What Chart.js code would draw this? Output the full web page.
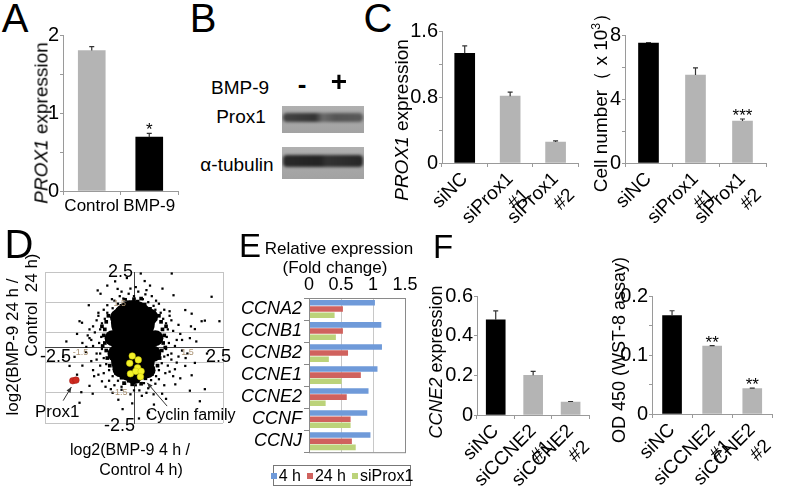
<!DOCTYPE html>
<html>
<head>
<meta charset="utf-8">
<script src="https://cdn.jsdelivr.net/npm/chart.js@4.4.1/dist/chart.umd.min.js"></script>
<style>
  body { margin: 0; width: 786px; height: 487px; position: relative; overflow: hidden; background: #fff;
         font-family: "Liberation Sans", Arial, sans-serif; color: #000; }
  canvas { position: absolute; }
  .t { position: absolute; white-space: nowrap; line-height: 1; }
  .blot { position: absolute; background: linear-gradient(180deg, #b0b0b0, #a2a2a2); overflow: hidden; }
  .band { position: absolute; left: 1px; right: 1px; filter: blur(1.6px); border-radius: 4px; }
  .legend { position: absolute; border: 1px solid #777; display: flex; align-items: center; justify-content: center;
            font-size: 16px; gap: 6px; box-sizing: border-box; white-space: nowrap; }
  .legend span.sw { display: inline-block; width: 6px; height: 6px; margin-right: 2px; vertical-align: middle; }
</style>
</head>
<body>
<script>
// ---- data ----
// A
const catsA = ['Control', 'BMP-9'];
const prox1A = [1.8, 0.69];
const errProx1A = [0.05, 0.05];
const starsA = ['', '*'];
const tickLabelsA = [0, 1, 2];

// C
const catsC = ['siNC', ['siProx1', '#1'], ['siProx1', '#2']];
const prox1C = [1.33, 0.81, 0.255];
const errProx1C = [0.09, 0.05, 0.012];
const tickLabelsProx1C = [0, 0.8, 1.6];
const cellC = [7.5, 5.5, 2.62];
const errCellC = [0.03, 0.44, 0.13];
const starsCellC = ['', '', '***'];
const tickLabelsCellC = [0, 4, 8];

// D (log2 ratios, 4 h on x, 24 h on y)
const prox1D = [{x: -1.72, y: -1.1}, {x: -1.63, y: -1.08}];
const cyclinD = [
  {x: -0.05, y: -0.28}, {x: 0.12, y: -0.41}, {x: -0.12, y: -0.52}, {x: 0.10, y: -0.67},
  {x: -0.10, y: -0.87}, {x: 0.05, y: -0.79}, {x: 0.20, y: -0.79}, {x: 0.18, y: -0.97}
];
// dense centre of the cloud
const coreD = [{x: -0.03, y: 0.83}, {x: -0.03, y: 0.21}, {x: -0.03, y: -0.40}];
const coreEdgeD = [
  {x: -0.6, y: 0.31}, {x: 0.6, y: 0.31}, {x: -0.52, y: -0.21}, {x: 0.54, y: -0.21},
  {x: -0.06, y: 1.3}, {x: 0.0, y: -0.95}, {x: -0.45, y: 1.0}, {x: 0.45, y: 1.02},
  {x: -0.38, y: -0.72}, {x: 0.38, y: -0.75}
];
const fringeD = [
  [-0.35,1.38],[-0.15,1.5],[0.1,1.52],[0.3,1.42],[0.0,1.6],[-0.25,1.58],[0.2,1.62],[-0.45,1.25],[0.45,1.28],
  [-0.72,1.05],[-0.78,0.85],[-0.82,0.6],[-0.85,0.4],[-0.82,0.15],[-0.78,-0.1],[-0.75,-0.35],[-0.68,-0.6],[-0.6,0.95],[-0.9,0.7],[-0.88,0.05],
  [0.7,1.05],[0.76,0.85],[0.8,0.6],[0.85,0.4],[0.82,0.15],[0.78,-0.1],[0.72,-0.35],[0.66,-0.6],[0.6,0.95],[0.9,0.7],[0.88,0.0],
  [-0.5,-0.85],[-0.35,-1.0],[-0.15,-1.1],[0.1,-1.12],[0.32,-1.02],[0.5,-0.88],[-0.05,-1.22],[0.2,-1.2],[-0.28,-1.18]
];
// scattered genes around the centre
const otherD = [
  [-0.3,1.62],[0.0,1.7],[0.25,1.6],[-0.15,1.78],[0.12,1.85],[0.4,1.5],[-0.45,1.45],[0.55,1.38],[-0.6,1.3],[0.32,1.76],[-0.35,1.85],[0.05,2.0],
  [-0.75,1.15],[-0.82,0.95],[-0.9,0.8],[-0.95,0.6],[-0.7,1.05],[-1.05,0.9],[-1.1,0.5],[-0.85,1.25],
  [-0.92,0.35],[-0.98,0.15],[-0.9,-0.05],[-1.05,-0.2],[-1.2,0.25],[-1.15,0.05],[-1.3,0.4],[-1.35,-0.15],
  [-0.85,-0.35],[-0.78,-0.55],[-0.7,-0.75],[-0.95,-0.6],[-1.05,-0.4],[-0.6,-0.95],[-0.85,-0.85],[-1.15,-0.75],
  [-0.45,-1.1],[-0.25,-1.2],[0.05,-1.25],[0.28,-1.18],[0.48,-1.08],[-0.35,-1.4],[0.15,-1.42],[0.4,-1.35],[-0.1,-1.55],[0.22,-1.6],[-0.55,-1.25],[0.6,-1.2],
  [0.85,-0.3],[0.78,-0.52],[0.7,-0.75],[0.95,-0.6],[1.05,-0.4],[0.62,-0.95],[0.88,-0.85],[1.15,-0.72],
  [0.92,0.35],[0.98,0.15],[0.9,-0.05],[1.05,-0.2],[1.2,0.25],[1.15,0.05],[1.3,0.45],[1.35,-0.1],
  [0.75,1.15],[0.82,0.95],[0.9,0.8],[0.95,0.6],[0.7,1.05],[1.05,0.9],[1.1,0.55],[0.85,1.25],
  [0.19,2.45],[1.06,2.45],[2.18,1.68],[1.11,1.73],[-0.53,2.19],[-0.46,1.94],[-0.94,1.78],[-1.27,1.4],
  [-1.53,0.87],[-1.46,0.82],[-1.02,1.89],[-1.25,0.31],[-1.34,0.02],[1.44,1.24],[1.62,1.12],[1.9,0.87],
  [1.99,0.89],[2.4,0.87],[1.71,0.61],[1.57,0.31],[1.25,-0.3],[1.44,-0.61],[1.71,-0.51],[1.62,-0.92],
  [1.16,-1.22],[1.3,-1.02],[1.99,-1.38],[1.85,-1.78],[0.79,-1.53],[0.56,-1.89],[-0.44,-1.73],[-0.65,-1.38],
  [-0.9,-1.12],[-1.25,-1.27],[-1.16,-1.53],[-1.53,-1.83],[-1.81,-0.61],[-1.99,-0.31],[-1.67,-0.31],
  [-0.32,-2.04],[0.14,-2.35],[0.42,-2.15],[1.57,-1.43],[-1.48,-1.48],
  [-0.62,1.6],[0.62,1.55],[-1.0,1.15],[1.0,1.2],[-1.12,-0.95],[1.1,-0.95],[-0.8,-1.3],[0.85,-1.25],
  [-1.45,0.15],[1.5,-0.2],[-0.2,2.3],[0.45,2.05],[-1.6,-0.9],[1.75,0.2],
  [-0.55,1.55],[-0.4,1.7],[-0.1,1.95],[0.35,1.9],[0.5,1.7],[0.7,1.45],[-0.75,1.4],[-1.0,1.05],
  [-1.15,0.7],[-1.2,-0.45],[-1.0,-0.9],[-0.7,-1.1],[-0.35,-1.3],[0.0,-1.42],[0.35,-1.5],[0.7,-1.05],
  [1.0,-0.8],[1.2,-0.5],[1.25,0.75],[1.0,1.05],[0.6,1.25],[-0.2,1.4],[0.15,1.35],[-1.25,0.6],
  [1.35,0.25],[-0.95,-0.2],[0.95,-0.25],[-0.6,-1.5],[0.55,-1.55],[-0.05,-1.85],[1.6,0.7],[-1.6,0.45],
  [-1.45,-0.6],[1.45,-0.35],[0.3,2.2],[-0.75,2.05],[0.8,1.95],[-1.9,0.2],[2.05,-0.2],[0.9,-1.7]
];
const gridD = [-2.5, -1.5, -0.5, 0.5, 1.5, 2.5];
const axisEndsD = ['-2.5', '2.5'];
const minorLabelsD = ['-1.5', '1.5'];

// E
const genesE = ['CCNA2', 'CCNB1', 'CCNB2', 'CCNE1', 'CCNE2', 'CCNF', 'CCNJ'];
const seriesE = ['4 h', '24 h', 'siProx1'];
const h4E = [1.03, 1.13, 1.14, 1.07, 0.93, 0.91, 0.96];
const h24E = [0.53, 0.53, 0.61, 0.81, 0.59, 0.65, 0.67];
const siProx1E = [0.40, 0.42, 0.31, 0.51, 0.26, 0.65, 0.73];

// F
const catsF = ['siNC', ['siCCNE2', '#1'], ['siCCNE2', '#2']];
const ccne2F = [0.48, 0.20, 0.065];
const errCcne2F = [0.045, 0.02, 0.003];
const tickLabelsCcne2F = [0, 0.2, 0.4, 0.6];
const odF = [0.167, 0.115, 0.043];
const errOdF = [0.008, 0.001, 0.001];
const starsOdF = ['', '**', '**'];
const tickLabelsOdF = [0, 0.1, 0.2];

// ---- setup ----
const FONT = '"Liberation Sans", Arial, sans-serif';
const AXIS = '#9a9a9a';
const GRAY = '#b4b4b4';
const colorsE = ['#6f9ad9', '#d0625e', '#bcd37a'];

Chart.defaults.font.family = FONT;
Chart.defaults.color = '#000';
Chart.defaults.animation = false;
Chart.defaults.responsive = false;
Chart.defaults.plugins.legend.display = false;
Chart.defaults.plugins.tooltip.enabled = false;

function makeCanvas(b) {
  const c = document.createElement('canvas');
  c.width = b.w; c.height = b.h;
  c.style.left = b.l + 'px'; c.style.top = b.t + 'px';
  document.body.appendChild(c);
  return c;
}

function addText(html, cx, cy, size, opts = {}) {
  const d = document.createElement('div');
  d.className = 't';
  d.innerHTML = html;
  d.style.left = cx + 'px';
  d.style.top = cy + 'px';
  d.style.fontSize = size + 'px';
  d.style.transform = 'translate(-50%,-50%)' + (opts.rot ? ' rotate(-90deg)' : '');
  if (opts.weight) d.style.fontWeight = opts.weight;
  document.body.appendChild(d);
  return d;
}

// upper whiskers and significance stars
const errorBars = {
  id: 'errorBars',
  afterDatasetsDraw(chart) {
    const ctx = chart.ctx, y = chart.scales.y;
    chart.data.datasets.forEach((ds, i) => {
      if (!ds.errors) return;
      chart.getDatasetMeta(i).data.forEach((bar, j) => {
        const top = y.getPixelForValue(ds.data[j] + ds.errors[j]);
        ctx.save();
        ctx.strokeStyle = '#333';
        ctx.lineWidth = 1.2;
        ctx.beginPath();
        ctx.moveTo(bar.x, bar.y);
        ctx.lineTo(bar.x, top);
        ctx.moveTo(bar.x - 2.5, top);
        ctx.lineTo(bar.x + 2.5, top);
        ctx.stroke();
        if (ds.stars && ds.stars[j]) {
          ctx.fillStyle = '#000';
          ctx.font = '17px ' + FONT;
          ctx.textAlign = 'center';
          ctx.fillText(ds.stars[j], bar.x, top + 2);
        }
        ctx.restore();
      });
    });
  }
};

const frame = {
  id: 'frame',
  afterDraw(chart) {
    const { ctx, chartArea: a } = chart;
    ctx.save();
    ctx.strokeStyle = '#8a8a8a';
    ctx.lineWidth = 1;
    ctx.strokeRect(a.left + 0.5, a.top + 0.5, a.right - a.left, a.bottom - a.top);
    ctx.restore();
  }
};

function isLabel(list, v) {
  return list.some(t => Math.abs(t - v) < 1e-6);
}

function barChart(b, labels, values, errors, stars, colors, ymax, step, yLabels, rotate, barPx, xFont) {
  return new Chart(makeCanvas(b), {
    type: 'bar',
    data: { labels, datasets: [{ data: values, errors, stars, backgroundColor: colors, barThickness: barPx }] },
    options: {
      layout: { padding: { top: b.pt, right: b.pr, left: 0, bottom: 0 } },
      scales: {
        x: {
          grid: { offset: true, drawOnChartArea: false, tickLength: 4, color: AXIS },
          border: { color: AXIS },
          ticks: { font: { size: xFont }, minRotation: rotate, maxRotation: rotate, autoSkip: false, padding: 1 },
          afterFit: s => { s.height = b.xh; }
        },
        y: {
          min: 0, max: ymax,
          grid: { drawOnChartArea: false, tickLength: 3, color: AXIS },
          border: { color: AXIS },
          ticks: { stepSize: step, font: { size: 20 }, padding: 1,
                   callback: v => isLabel(yLabels, v) ? String(+v.toFixed(2)) : '' },
          afterFit: s => { s.width = b.yw; }
        }
      }
    },
    plugins: [errorBars]
  });
}

// ---- A ----
barChart({ l: 33, t: 20, w: 152, h: 205, yw: 30, xh: 34, pt: 15, pr: 7 },
  catsA, prox1A, errProx1A, starsA, [GRAY, '#000'], 2, 0.5, tickLabelsA, 0, 27, 17);

// ---- C ----
barChart({ l: 405, t: 15, w: 185, h: 215, yw: 37, xh: 67, pt: 16, pr: 7 },
  catsC, prox1C, errProx1C, null, ['#000', GRAY, GRAY], 1.6, 0.4, tickLabelsProx1C, 45, 20, 19);
barChart({ l: 598, t: 15, w: 188, h: 215, yw: 27, xh: 67, pt: 20, pr: 20 },
  catsC, cellC, errCellC, starsCellC, ['#000', GRAY, GRAY], 8, 2, tickLabelsCellC, 45, 20, 19);

// ---- F ----
barChart({ l: 440, t: 280, w: 165, h: 207, yw: 37, xh: 72, pt: 16, pr: 7 },
  catsF, ccne2F, errCcne2F, null, ['#000', GRAY, GRAY], 0.6, 0.1, tickLabelsCcne2F, 45, 19, 19);
barChart({ l: 615, t: 280, w: 171, h: 207, yw: 37, xh: 73, pt: 16, pr: 3 },
  catsF, odF, errOdF, starsOdF, ['#000', GRAY, GRAY], 0.2, 0.05, tickLabelsOdF, 45, 19, 19);

// ---- D ----
const dLabels = {
  id: 'dLabels',
  afterDraw(chart) {
    const { ctx, scales: { x, y } } = chart;
    const px = v => x.getPixelForValue(v), py = v => y.getPixelForValue(v);
    ctx.save();
    ctx.fillStyle = '#000';
    ctx.textBaseline = 'middle';
    ctx.font = '18px ' + FONT;
    ctx.textAlign = 'right';
    ctx.fillText(axisEndsD[1], px(0) - 1, py(2.5));
    ctx.fillText(axisEndsD[0], px(0) + 1, py(-2.5) + 3);
    ctx.fillText(axisEndsD[1], px(2.5) + 8, py(0) + 10);
    ctx.textAlign = 'left';
    ctx.fillText(axisEndsD[0], px(-2.5) - 5, py(0) + 10);
    // faint inner labels
    ctx.font = '9px ' + FONT;
    ctx.fillStyle = '#a89070';
    ctx.textAlign = 'center';
    ctx.fillText(minorLabelsD[1], px(-0.4), py(1.45));
    ctx.fillText(minorLabelsD[0], px(-0.4), py(-1.5));
    ctx.fillText(minorLabelsD[0], px(-1.5), py(-0.15));
    ctx.fillText(minorLabelsD[1], px(1.5), py(-0.15));
    // arrows
    ctx.strokeStyle = '#333';
    ctx.fillStyle = '#333';
    ctx.lineWidth = 1;
    [[[-1.99, -1.76], [-1.76, -1.31]], [[0.93, -1.94], [0.37, -1.17]]].forEach(([f, t]) => {
      const x0 = px(f[0]), y0 = py(f[1]), x1 = px(t[0]), y1 = py(t[1]);
      const a = Math.atan2(y1 - y0, x1 - x0);
      ctx.beginPath(); ctx.moveTo(x0, y0); ctx.lineTo(x1, y1); ctx.stroke();
      ctx.beginPath();
      ctx.moveTo(x1, y1);
      ctx.lineTo(x1 - 6 * Math.cos(a - 0.4), y1 - 6 * Math.sin(a - 0.4));
      ctx.lineTo(x1 - 6 * Math.cos(a + 0.4), y1 - 6 * Math.sin(a + 0.4));
      ctx.closePath(); ctx.fill();
    });
    ctx.fillStyle = '#000';
    ctx.font = '17px ' + FONT;
    ctx.textAlign = 'left';
    ctx.fillText('Prox1', px(-2.78), py(-2.14));
    ctx.font = '16px ' + FONT;
    ctx.fillText('Cyclin family', px(0.33), py(-2.24));
    ctx.restore();
  }
};

const toXY = list => list.map(([x, y]) => ({ x, y }));

new Chart(makeCanvas({ l: 0, t: 250, w: 245, h: 195 }), {
  type: 'scatter',
  data: {
    datasets: [
      { data: prox1D, pointRadius: 3.3, backgroundColor: '#cf2a20', borderColor: '#a01810', borderWidth: 0.5 },
      { data: cyclinD, pointRadius: 3.3, backgroundColor: '#f4f22a', borderColor: '#c9c400', borderWidth: 0.5 },
      { data: coreD, pointRadius: 22, backgroundColor: '#000', borderWidth: 0 },
      { data: coreEdgeD, pointRadius: 8, backgroundColor: '#000', borderWidth: 0 },
      { data: toXY(fringeD), pointRadius: 2.6, pointStyle: 'rect', backgroundColor: '#000', borderWidth: 0 },
      { data: toXY(otherD), pointRadius: 1.6, pointStyle: 'rect', backgroundColor: '#000', borderWidth: 0 }
    ]
  },
  options: {
    layout: { padding: { left: 45, top: 13, right: 20, bottom: 18 } },
    scales: {
      x: {
        type: 'linear', min: -2.5, max: 2.5, position: { y: 0 },
        afterBuildTicks: s => { s.ticks = [{ value: -2.5 }, { value: 2.5 }]; },
        ticks: { display: false },
        grid: { color: '#c4c4c4', drawTicks: false },
        border: { color: '#444' }
      },
      y: {
        min: -2.5, max: 2.5, position: { x: 0 },
        afterBuildTicks: s => { s.ticks = gridD.map(v => ({ value: v })); },
        ticks: { display: false },
        grid: { color: '#c4c4c4', drawTicks: false },
        border: { color: '#444' }
      }
    }
  },
  plugins: [dLabels]
});

// ---- E ----
new Chart(makeCanvas({ l: 225, t: 270, w: 195, h: 195 }), {
  type: 'bar',
  data: {
    labels: genesE,
    datasets: [h4E, h24E, siProx1E].map((d, i) => ({ label: seriesE[i], data: d, backgroundColor: colorsE[i] }))
  },
  options: {
    indexAxis: 'y',
    layout: { padding: { right: 15, bottom: 5 } },
    datasets: { bar: { categoryPercentage: 0.84, barPercentage: 0.9 } },
    scales: {
      x: {
        position: 'top', min: 0, max: 1.5,
        ticks: { stepSize: 0.5, font: { size: 18 }, padding: 2, callback: v => String(+v.toFixed(2)) },
        grid: { color: '#c8c8c8', drawTicks: false },
        border: { display: false },
        afterFit: s => { s.height = 28; }
      },
      y: {
        ticks: { font: { size: 18, style: 'italic' }, padding: 2, autoSkip: false },
        grid: { offset: true, drawOnChartArea: false, tickLength: 5, color: '#888' },
        border: { color: '#888' },
        afterFit: s => { s.width = 84; }
      }
    }
  },
  plugins: [frame]
});

const leg = document.createElement('div');
leg.className = 'legend';
Object.assign(leg.style, { left: '273px', top: '465px', width: '138px', height: '21px' });
leg.innerHTML = seriesE.map((s, i) =>
  `<span><span class="sw" style="background:${colorsE[i]}"></span>${s}</span>`).join('');
document.body.appendChild(leg);

// ---- panel letters and titles ----
addText('A', 15, 18, 40);
addText('B', 203, 18, 40);
addText('C', 378, 18, 40);
addText('D', 19, 244, 40);
addText('E', 250, 245, 33);
addText('F', 443, 246, 33);

addText('<i>PROX1</i> expression', 41, 123, 19, { rot: true });
addText('<i>PROX1</i> expression', 401, 120, 19, { rot: true });
addText('Cell number（ x 10<sup style="font-size:0.65em;vertical-align:0.5em;line-height:0">3</sup>）', 600, 98, 19, { rot: true });
addText('<i>CCNE2</i> expression', 436, 362, 18, { rot: true });
addText('OD 450 (WST-8 assay)', 619, 350, 18, { rot: true });

addText('log2(BMP-9 24 h /', 12, 347, 17, { rot: true });
addText('Control&nbsp; 24 h)', 31, 305, 17, { rot: true });
addText('log2(BMP-9 4 h /', 130, 450, 16);
addText('Control 4 h)', 141, 470, 16);

addText('Relative expression', 339, 248, 17);
addText('(Fold change)', 335, 267, 17);

// ---- B: western blot ----
addText('BMP-9', 240, 87, 19);
addText('-', 302, 84, 26, { weight: 'bold' });
addText('+', 339, 82, 28, { weight: 'bold' });
addText('Prox1', 241, 116, 19);
addText('α-tubulin', 237, 164, 19);

function blot(l, t, w, h, bandTop, bandH, grad) {
  const b = document.createElement('div');
  b.className = 'blot';
  Object.assign(b.style, { left: l + 'px', top: t + 'px', width: w + 'px', height: h + 'px' });
  const band = document.createElement('div');
  band.className = 'band';
  Object.assign(band.style, { top: bandTop + 'px', height: bandH + 'px', background: grad });
  b.appendChild(band);
  document.body.appendChild(b);
}
blot(282, 106, 82, 27, 7, 9, 'linear-gradient(90deg,#444,#333 40%,#6a6a6a 50%,#555 65%,#5a5a5a)');
blot(282, 147, 82, 32, 8, 12, 'linear-gradient(90deg,#2a2a2a,#222 45%,#333 55%,#262626)');
</script>
</body>
</html>
